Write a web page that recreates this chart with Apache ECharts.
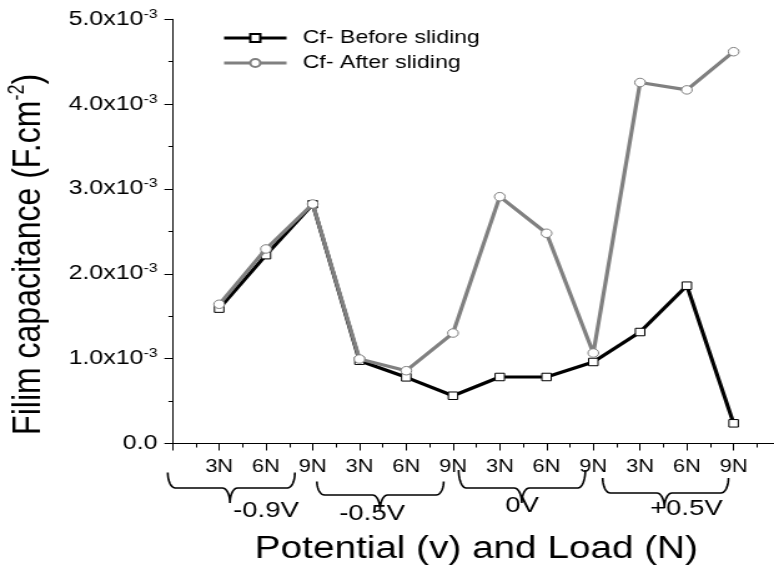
<!DOCTYPE html>
<html>
<head>
<meta charset="utf-8">
<script src="https://cdn.jsdelivr.net/npm/echarts@6/dist/echarts.min.js"></script>
<style>
html, body { margin: 0; padding: 0; background: #ffffff; overflow: hidden; }
#wrap { width: 774px; height: 571px; overflow: hidden; }
#chart { width: 620px; height: 571px; transform: scaleX(1.2484); transform-origin: 0 0; }
</style>
</head>
<body>
<div id="wrap"><div id="chart"></div></div>
<script>
// ---- data ----
const loadLabels = ['3N', '6N', '9N', '3N', '6N', '9N', '3N', '6N', '9N', '3N', '6N', '9N'];
const potentials = ['-0.9V', '-0.5V', '0V', '+0.5V'];
const beforeSliding = [1.59e-3, 2.22e-3, 2.82e-3, 0.976e-3, 0.78e-3, 0.563e-3, 0.784e-3, 0.784e-3, 0.961e-3, 1.314e-3, 1.86e-3, 0.238e-3];
const afterSliding  = [1.641e-3, 2.293e-3, 2.823e-3, 0.996e-3, 0.858e-3, 1.302e-3, 2.909e-3, 2.478e-3, 1.067e-3, 4.255e-3, 4.168e-3, 4.618e-3];
const seriesNames = ['Cf- Before sliding', 'Cf- After sliding'];

// ---- layout / style (kept apart from the data) ----
const FONT = 'Liberation Sans, Arial, Helvetica, sans-serif';
const braceLayout = [
  { from: -0.1, to: 2.62, tip: 1.23, top: 472.5, base: 488, tipY: 503, labelAt: 2.0, labelY: 511 },
  { from: 3.09, to: 5.80, tip: 4.44, top: 481.5, base: 495, tipY: 510, labelAt: 4.27, labelY: 514 },
  { from: 6.12, to: 8.83, tip: 7.47, top: 470, base: 488, tipY: 503, labelAt: 7.48, labelY: 506 },
  { from: 9.20, to: 11.89, tip: 10.52, top: 478, base: 493, tipY: 508, labelAt: 10.99, labelY: 509 }
];

const chart = echarts.init(document.getElementById('chart'), null, { renderer: 'canvas' });

function xy(arr) { return arr.map((v, i) => [i + 1, v]); }

const option = {
  backgroundColor: '#ffffff',
  animation: false,
  textStyle: { fontFamily: FONT, color: '#000' },
  grid: {
    left: 138.1, top: 19.3, width: 487, height: 424.2,
    containLabel: false, outerBoundsMode: 'none'
  },
  legend: {
    orient: 'vertical',
    left: 178, top: 28.5,
    padding: 0,
    itemWidth: 50, itemHeight: 10, itemGap: 6,
    selectedMode: false,
    lineStyle: { width: 3 },
    textStyle: { fontFamily: FONT, fontSize: 18.5, color: '#000', padding: [0, 0, 0, 8] },
    data: seriesNames
  },
  xAxis: {
    type: 'value',
    min: 0, max: 13, interval: 1,
    name: 'Potential (v) and Load (N)',
    nameLocation: 'middle',
    nameGap: 90,
    nameTextStyle: { fontFamily: FONT, fontSize: 31, color: '#000' },
    axisLine: { show: true, onZero: false, lineStyle: { color: '#000', width: 1 } },
    axisTick: { show: true, inside: false, length: 7, lineStyle: { color: '#000', width: 1 } },
    minorTick: { show: true, splitNumber: 2, length: 4, lineStyle: { color: '#000', width: 1 } },
    splitLine: { show: false },
    minorSplitLine: { show: false },
    axisLabel: {
      margin: 15,
      fontFamily: FONT, fontSize: 17.5, color: '#000',
      showMinLabel: true, showMaxLabel: true,
      formatter: function (v) {
        const i = Math.round(v) - 1;
        return (i >= 0 && i < loadLabels.length) ? loadLabels[i] : '';
      }
    }
  },
  yAxis: {
    type: 'value',
    min: 0, max: 5e-3, interval: 1e-3,
    name: '{t|Filim capacitance (F.cm}{s|-2}{t|)}',
    nameLocation: 'middle',
    nameRotate: 90,
    nameGap: 97,
    nameTextStyle: {
      fontFamily: FONT, fontSize: 32, color: '#000',
      padding: [0, 46, 0, 0],
      rich: {
        t: { fontFamily: FONT, fontSize: 32, color: '#000', lineHeight: 36 },
        s: { fontFamily: FONT, fontSize: 18, color: '#000', verticalAlign: 'top', lineHeight: 18 }
      }
    },
    axisLine: { show: true, onZero: false, lineStyle: { color: '#000', width: 1 } },
    axisTick: { show: true, inside: false, length: 6.4, lineStyle: { color: '#000', width: 1 } },
    minorTick: { show: true, splitNumber: 2, length: 3.2, lineStyle: { color: '#000', width: 1 } },
    splitLine: { show: false },
    minorSplitLine: { show: false },
    axisLabel: {
      margin: 12,
      color: '#000',
      formatter: function (v) {
        if (Math.abs(v) < 1e-12) return '{b|0.0}';
        return '{b|' + (v * 1000).toFixed(1) + 'x10}{s|-3}';
      },
      rich: {
        b: { fontFamily: FONT, fontSize: 20, color: '#000', lineHeight: 23 },
        s: { fontFamily: FONT, fontSize: 12.5, color: '#000', verticalAlign: 'top', lineHeight: 12 }
      }
    }
  },
  series: [
    {
      name: seriesNames[0],
      type: 'line',
      data: xy(beforeSliding),
      symbol: 'rect',
      symbolSize: 7.5,
      showAllSymbol: true,
      lineStyle: { color: '#000000', width: 3.2 },
      itemStyle: { color: '#ffffff', borderColor: '#000000', borderWidth: 1 },
      emphasis: { disabled: true },
      z: 2
    },
    {
      name: seriesNames[1],
      type: 'line',
      data: xy(afterSliding),
      symbol: 'circle',
      symbolSize: 8.5,
      showAllSymbol: true,
      lineStyle: { color: '#808080', width: 3.2 },
      itemStyle: { color: '#ffffff', borderColor: '#808080', borderWidth: 1 },
      emphasis: { disabled: true },
      z: 3
    }
  ]
};

chart.setOption(option);

// ---- braces and potential labels under the load ticks, placed through the x axis scale ----
function bracePoints(b) {
  const px = u => chart.convertToPixel({ xAxisIndex: 0 }, u);
  const xL = px(b.from), xR = px(b.to), xT = px(b.tip);
  const r = 6, n = 10, pts = [];
  for (let k = 0; k <= n; k++) { const t = k / n * Math.PI / 2; pts.push([xL + r - r * Math.cos(t), b.top + (b.base - b.top) * Math.sin(t)]); }
  for (let k = 0; k <= n; k++) { const t = k / n * Math.PI / 2; pts.push([xT - r + r * Math.sin(t), b.base + (b.tipY - b.base) * (1 - Math.cos(t))]); }
  for (let k = 0; k <= n; k++) { const t = k / n * Math.PI / 2; pts.push([xT + r * (1 - Math.cos(t)), b.base + (b.tipY - b.base) * (1 - Math.sin(t))]); }
  for (let k = 0; k <= n; k++) { const t = k / n * Math.PI / 2; pts.push([xR - r + r * Math.sin(t), b.base - (b.base - b.top) * (1 - Math.cos(t))]); }
  return pts;
}

const graphics = [];
braceLayout.forEach(function (b, i) {
  graphics.push({
    type: 'polyline',
    silent: true,
    shape: { points: bracePoints(b) },
    style: { stroke: '#000', fill: null, lineWidth: 1.6 },
    z: 10
  });
  graphics.push({
    type: 'text',
    silent: true,
    x: chart.convertToPixel({ xAxisIndex: 0 }, b.labelAt),
    y: b.labelY,
    style: {
      text: potentials[i],
      fontFamily: FONT, fontSize: 22, fill: '#000',
      align: 'center', verticalAlign: 'middle'
    },
    z: 11
  });
});
chart.setOption({ graphic: { elements: graphics } });
</script>
</body>
</html>
